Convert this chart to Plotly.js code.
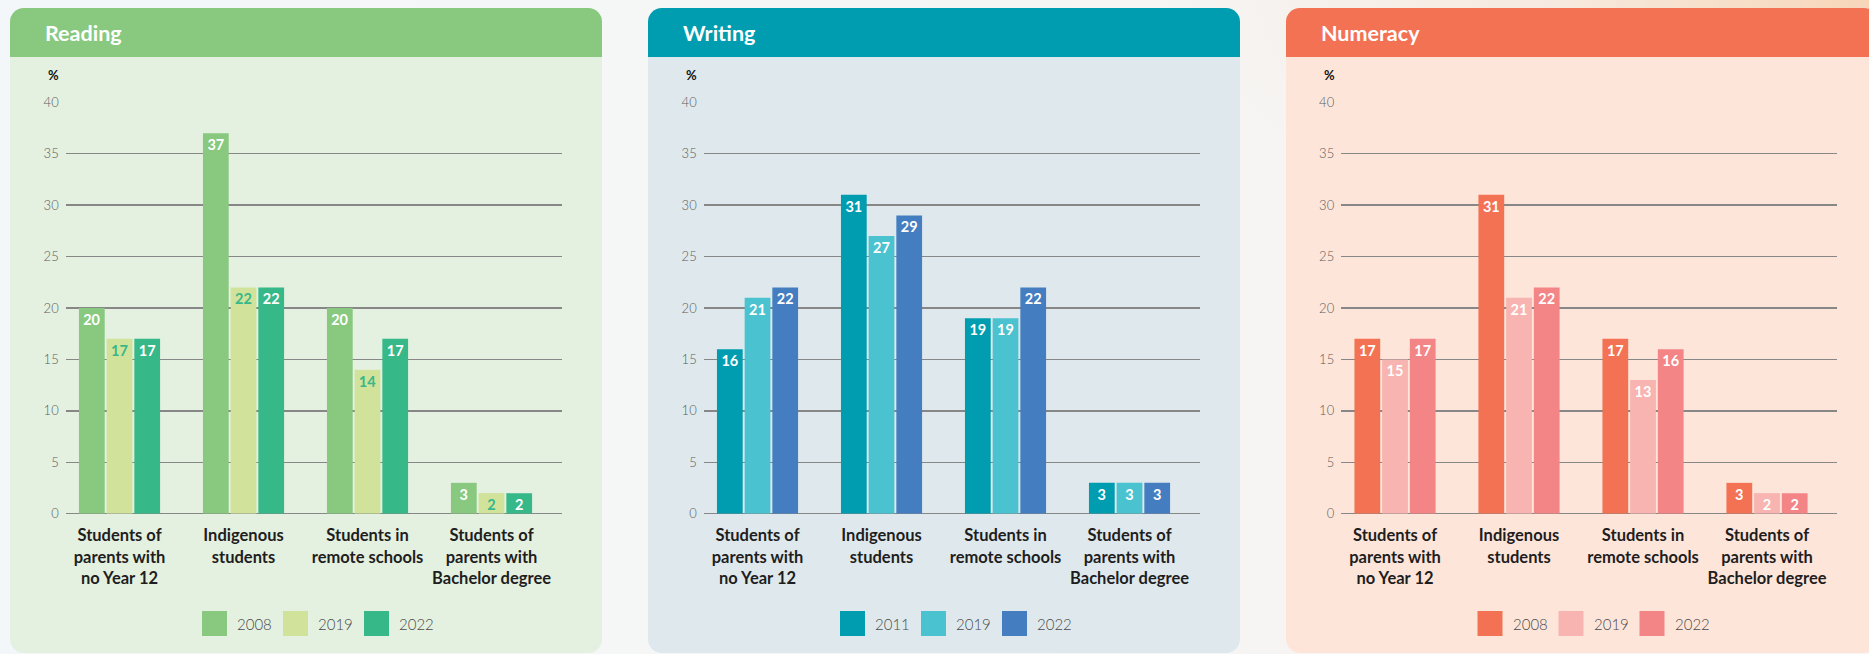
<!DOCTYPE html>
<html>
<head>
<meta charset="utf-8">
<script src="https://cdn.plot.ly/plotly-3.0.1.min.js"></script>
<style>
  html, body { margin: 0; padding: 0; }
  body {
    width: 1869px; height: 654px; overflow: hidden; position: relative;
    background: radial-gradient(ellipse 700px 260px at 1869px 0px, #f7d6b9 0%, rgba(247,214,185,0.35) 45%, rgba(247,214,185,0) 100%),
                linear-gradient(90deg, #f3f7fa 0%, #f6f6f6 40%, #f6f4f2 100%);
    font-family: Lato, sans-serif;
  }
  .panel { position: absolute; top: 8px; width: 592px; height: 645px; border-radius: 14px; overflow: hidden; }
  .panel .head { position: absolute; left: 0; top: 0; width: 100%; height: 49px; }
  #chart { position: absolute; left: 0; top: 0; }
</style>
</head>
<body>
<div class="panel" id="p0"><div class="head"></div></div>
<div class="panel" id="p1"><div class="head"></div></div>
<div class="panel" id="p2"><div class="head"></div></div>
<div id="chart"></div>
<script>
// ---------------- DATA ----------------
const categories = [
  'Students of<br>parents with<br>no Year 12',
  'Indigenous<br>students',
  'Students in<br>remote schools',
  'Students of<br>parents with<br>Bachelor degree'
];
const panelTitles = ['Reading', 'Writing', 'Numeracy'];

const readingYears = ['2008', '2019', '2022'];
const reading2008 = [20, 37, 20, 3];
const reading2019 = [17, 22, 14, 2];
const reading2022 = [17, 22, 17, 2];

const writingYears = ['2011', '2019', '2022'];
const writing2011 = [16, 31, 19, 3];
const writing2019 = [21, 27, 19, 3];
const writing2022 = [22, 29, 22, 3];

const numeracyYears = ['2008', '2019', '2022'];
const numeracy2008 = [17, 31, 17, 3];
const numeracy2019 = [15, 21, 13, 2];
const numeracy2022 = [17, 22, 16, 2];

const yTickVals = [0, 5, 10, 15, 20, 25, 30, 35, 40];

// ---------------- STYLE ----------------
const W = 1869, H = 654;
const panelLefts = [10, 648, 1285.5];
const panelStyle = [
  { head: '#88c97f', body: '#e4f0e0', bars: ['#88c97f', '#d1e29b', '#36b889'], text: ['#ffffff', '#36b889', '#ffffff'] },
  { head: '#009db0', body: '#dfe9ed', bars: ['#009db0', '#4ac2cf', '#447ec0'], text: ['#ffffff', '#ffffff', '#ffffff'] },
  { head: '#f37254', body: '#fee5da', bars: ['#f37254', '#f8b4b0', '#f38587'], text: ['#ffffff', '#ffffff', '#ffffff'] }
];
const panelData = [
  { years: readingYears, series: [reading2008, reading2019, reading2022] },
  { years: writingYears, series: [writing2011, writing2019, writing2022] },
  { years: numeracyYears, series: [numeracy2008, numeracy2019, numeracy2022] }
];

panelLefts.forEach((L, i) => {
  const p = document.getElementById('p' + i);
  p.style.left = L + 'px';
  p.style.background = panelStyle[i].body;
  p.querySelector('.head').style.background = panelStyle[i].head;
});

const px = x => x / W;
const py = y => 1 - y / H;

const FONT = 'Lato, "Open Sans", sans-serif';
const traces = [];
const layout = {
  width: W, height: H,
  margin: { l: 0, r: 0, t: 0, b: 0 },
  paper_bgcolor: 'rgba(0,0,0,0)',
  plot_bgcolor: 'rgba(0,0,0,0)',
  barmode: 'group',
  bargap: 0.33,
  bargroupgap: 0.07,
  showlegend: false,
  font: { family: FONT },
  shapes: [],
  annotations: []
};

panelLefts.forEach((L, i) => {
  const sfx = i === 0 ? '' : String(i + 1);
  const xa = 'x' + sfx, ya = 'y' + sfx;
  const d = panelData[i], st = panelStyle[i];
  d.series.forEach((vals, k) => {
    traces.push({
      type: 'bar',
      name: d.years[k],
      x: categories,
      y: vals,
      xaxis: xa, yaxis: ya,
      marker: { color: st.bars[k], line: { width: 0 } },
      text: vals.map(String),
      textposition: 'inside',
      insidetextanchor: 'end',
      textangle: 0,
      constraintext: 'none',
      insidetextfont: { family: FONT, size: 14.5, color: st.text[k], weight: 700 },
      hoverinfo: 'x+y'
    });
  });
  const gx0 = L + 55.7, gx1 = L + 551.7;
  layout['xaxis' + sfx] = {
    domain: [px(gx0), px(gx1)],
    anchor: ya,
    type: 'category',
    range: [-0.434, 3.566],
    showgrid: false, zeroline: false, showline: false,
    ticks: '',
    ticklabelstandoff: 10,
    tickfont: { family: FONT, size: 16.5, color: '#1e1e1e', weight: 700 },
    fixedrange: true
  };
  layout['yaxis' + sfx] = {
    domain: [py(513.7), py(102.3)],
    anchor: xa,
    range: [0, 40],
    tickvals: yTickVals,
    showgrid: true, gridcolor: '#878787', gridwidth: 1.5,
    zeroline: true, zerolinecolor: '#878787', zerolinewidth: 1.5,
    showline: false,
    ticks: '',
    ticklabelstandoff: 6,
    tickfont: { family: FONT, size: 13, color: '#5c5c5c', weight: 300 },
    fixedrange: true
  };
  // panel title
  layout.annotations.push({
    xref: 'paper', yref: 'paper', x: px(L + 33), y: py(33),
    xanchor: 'left', yanchor: 'middle', showarrow: false,
    text: '<b>' + panelTitles[i] + '</b>',
    font: { family: FONT, size: 21.5, color: '#ffffff' }
  });
  // % unit label
  layout.annotations.push({
    xref: 'paper', yref: 'paper', x: px(L + 43.5), y: py(75),
    xanchor: 'center', yanchor: 'middle', showarrow: false,
    text: '<b>%</b>',
    font: { family: FONT, size: 13, color: '#111111' }
  });
  // custom legend
  const swX = [L + 192, L + 273, L + 354];
  d.years.forEach((yr, k) => {
    layout.shapes.push({
      type: 'rect', xref: 'paper', yref: 'paper',
      x0: px(swX[k]), x1: px(swX[k] + 25), y0: py(636), y1: py(611),
      fillcolor: st.bars[k], line: { width: 0 }
    });
    layout.annotations.push({
      xref: 'paper', yref: 'paper', x: px(swX[k] + 33), y: py(623.5),
      xanchor: 'left', yanchor: 'middle', showarrow: false,
      text: yr,
      font: { family: FONT, size: 15, color: '#4a4a4a', weight: 300 }
    });
  });
});

Plotly.newPlot('chart', traces, layout, { displayModeBar: false, staticPlot: true });
</script>
</body>
</html>
